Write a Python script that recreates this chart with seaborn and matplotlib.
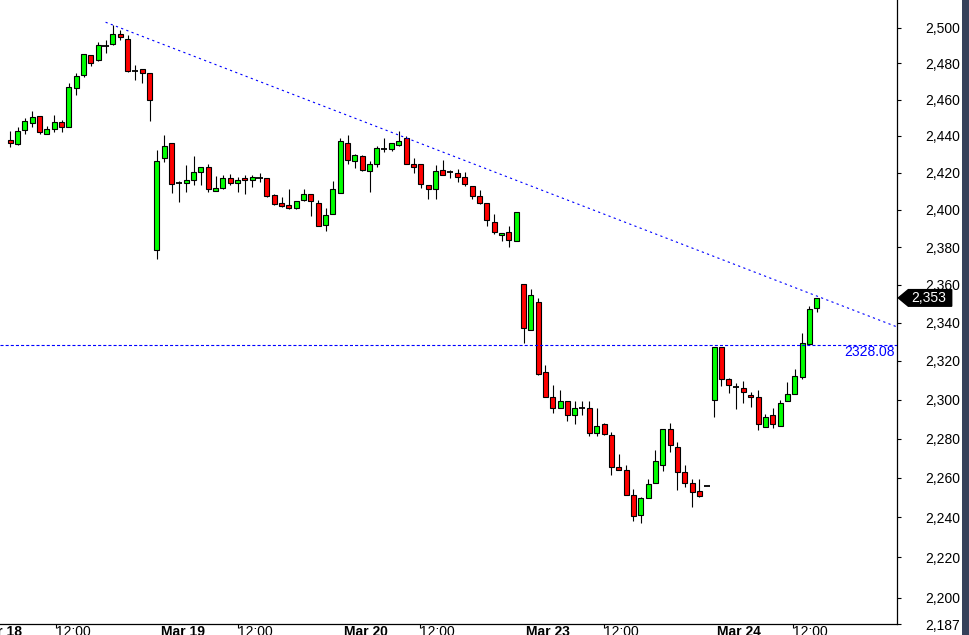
import numpy as np
import pandas as pd
import matplotlib
matplotlib.use("Agg")
import matplotlib.pyplot as plt
import seaborn as sns
from matplotlib.patches import Polygon, Rectangle
from matplotlib.transforms import IdentityTransform
from matplotlib.ticker import FixedLocator, FuncFormatter, NullLocator

# ---------------- data (hourly candles) ----------------
opens = [2437.6, 2435.7, 2443.0, 2446.9, 2450.7, 2440.8, 2443.6, 2447.4, 2444.7, 2466.1,
         2473.3, 2484.4, 2481.7, 2489.8, 2490.6, 2496.2, 2493.4, 2475.9, 2476.7, 2474.6,
         2378.2, 2428.2, 2435.9, 2414.4, 2414.5, 2416.2, 2420.6, 2423.3, 2410.0, 2411.5,
         2417.2, 2414.5, 2417.2, 2416.2, 2416.9, 2417.2, 2408.1, 2403.4, 2402.6, 2401.0,
         2405.3, 2408.7, 2403.4, 2391.6, 2397.5, 2409.1, 2435.9, 2426.6, 2428.8, 2421.1,
         2424.9, 2432.8, 2432.6, 2435.3, 2438.7, 2424.9, 2424.9, 2413.4, 2411.2, 2421.7,
         2420.4, 2419.6, 2417.8, 2412.9, 2407.6, 2403.8, 2393.2, 2386.2, 2387.8, 2383.0,
         2360.1, 2336.4, 2351.1, 2314.3, 2301.1, 2295.4, 2299.5, 2291.8, 2295.7, 2295.4,
         2283.0, 2287.2, 2282.0, 2265.7, 2264.2, 2251.4, 2241.4, 2250.0, 2257.6, 2266.7,
         2285.1, 2275.8, 2262.7, 2257.4, 2253.1, 2256.1, 2300.0, 2327.0, 2310.4, 2306.4,
         2306.2, 2302.6, 2301.1, 2286.1, 2292.3, 2286.6, 2299.5, 2303.1, 2311.9, 2328.6,
         2347.5]
highs = [2442.7, 2445.0, 2449.6, 2453.6, 2450.7, 2445.2, 2451.3, 2448.7, 2469.4, 2474.4,
         2485.0, 2484.4, 2491.7, 2493.0, 2501.3, 2498.4, 2495.6, 2479.1, 2476.7, 2474.6,
         2432.2, 2440.5, 2435.9, 2415.3, 2424.0, 2428.9, 2423.3, 2424.6, 2418.3, 2418.5,
         2419.2, 2417.6, 2419.0, 2419.0, 2420.0, 2417.2, 2408.7, 2406.6, 2411.2, 2404.8,
         2411.2, 2408.7, 2405.1, 2400.8, 2415.3, 2438.7, 2440.5, 2430.4, 2429.5, 2426.6,
         2434.4, 2438.7, 2435.9, 2442.7, 2439.9, 2428.2, 2424.9, 2413.4, 2424.0, 2426.9,
         2421.7, 2422.2, 2420.6, 2412.9, 2410.7, 2403.8, 2397.5, 2387.6, 2391.0, 2398.5,
         2360.6, 2357.6, 2353.2, 2317.7, 2307.4, 2304.8, 2299.5, 2299.5, 2299.0, 2299.0,
         2295.4, 2288.2, 2283.5, 2271.9, 2266.7, 2254.1, 2250.5, 2259.6, 2274.3, 2285.1,
         2288.2, 2278.4, 2266.7, 2259.4, 2259.4, 2256.1, 2327.0, 2327.0, 2311.2, 2308.3,
         2309.5, 2303.7, 2304.8, 2292.8, 2295.4, 2299.7, 2309.3, 2316.0, 2334.6, 2348.7,
         2353.0]
lows = [2434.1, 2435.1, 2441.2, 2444.7, 2440.8, 2440.8, 2442.3, 2441.9, 2444.7, 2462.6,
        2472.6, 2478.7, 2481.1, 2485.9, 2490.0, 2492.8, 2475.3, 2470.9, 2469.2, 2448.3,
        2373.4, 2425.8, 2409.0, 2404.2, 2409.8, 2413.4, 2413.2, 2409.8, 2410.0, 2411.2,
        2413.4, 2409.3, 2408.5, 2412.1, 2414.7, 2406.9, 2402.6, 2401.5, 2400.5, 2400.5,
        2404.8, 2396.7, 2391.0, 2388.4, 2397.5, 2409.1, 2424.9, 2422.4, 2420.8, 2409.3,
        2423.3, 2431.1, 2431.9, 2434.6, 2424.9, 2420.0, 2411.6, 2405.5, 2405.5, 2418.5,
        2417.2, 2415.2, 2412.9, 2406.0, 2403.3, 2391.4, 2387.1, 2383.3, 2380.1, 2383.0,
        2329.4, 2336.4, 2312.8, 2301.1, 2293.1, 2295.4, 2289.0, 2287.5, 2292.3, 2281.5,
        2281.5, 2282.0, 2261.5, 2264.2, 2251.4, 2238.4, 2237.0, 2250.0, 2257.6, 2263.5,
        2273.1, 2253.9, 2255.4, 2245.2, 2250.3, 2256.1, 2290.9, 2307.1, 2303.5, 2294.9,
        2298.0, 2296.2, 2284.6, 2286.1, 2285.6, 2286.6, 2299.5, 2303.1, 2310.4, 2328.6,
        2345.7]
closes = [2435.9, 2442.5, 2448.0, 2450.2, 2441.9, 2443.6, 2447.4, 2444.7, 2466.7, 2472.8,
          2485.0, 2480.0, 2490.0, 2489.8, 2496.2, 2494.5, 2475.9, 2475.9, 2474.4, 2460.0,
          2426.6, 2434.3, 2414.0, 2414.4, 2416.2, 2420.6, 2423.3, 2411.2, 2411.7, 2417.2,
          2414.5, 2416.2, 2416.2, 2417.8, 2416.9, 2407.4, 2403.2, 2402.1, 2401.0, 2404.8,
          2408.7, 2404.5, 2391.0, 2397.3, 2411.2, 2437.0, 2427.1, 2429.5, 2421.3, 2424.9,
          2433.2, 2432.8, 2435.9, 2437.0, 2424.9, 2423.3, 2414.0, 2411.2, 2421.1, 2419.0,
          2420.4, 2417.8, 2414.0, 2407.6, 2403.8, 2394.4, 2387.8, 2387.6, 2383.5, 2398.5,
          2337.0, 2354.8, 2313.3, 2301.1, 2295.4, 2299.5, 2292.3, 2295.7, 2295.7, 2283.0,
          2286.6, 2282.5, 2265.5, 2264.2, 2251.4, 2240.9, 2250.0, 2257.1, 2268.7, 2285.1,
          2276.8, 2262.7, 2257.4, 2252.9, 2250.8, 2256.1, 2327.0, 2310.4, 2307.3, 2306.4,
          2303.7, 2301.1, 2287.2, 2290.8, 2287.2, 2298.0, 2303.1, 2312.4, 2329.1, 2346.9,
          2353.0]

y_ticks = [2187, 2200, 2220, 2240, 2260, 2280, 2300, 2320, 2340, 2360,
           2380, 2400, 2420, 2440, 2460, 2480, 2500]
time_tick_pos = [6.2, 31.0, 55.9, 81.0, 106.8]
time_tick_labels = ["12:00", "12:00", "12:00", "12:00", "12:00"]
date_tick_pos = [-1.4, 23.5, 48.5, 73.4, 99.4]
date_tick_labels = ["Mar 18", "Mar 19", "Mar 20", "Mar 23", "Mar 24"]
level_value = 2328.08
trend_idx = [13, 110]
trend_val = [2503.0, 2354.0]

# ---------------- style ----------------
sns.set_theme(style="white")
plt.rcParams["font.family"] = ["Liberation Sans", "DejaVu Sans"]
plt.rcParams["lines.scale_dashes"] = False

fig = plt.figure(figsize=(9.69, 6.35), dpi=100)
fig.patch.set_facecolor("white")
ax = fig.add_axes([0, 10.7 / 635, 896.7 / 969, 624.3 / 635])
ax.set_facecolor("white")

df = pd.DataFrame({"o": opens, "h": highs, "l": lows, "c": closes})
df["i"] = np.arange(len(df))
XMIN, XMAX = -0.45, 120.9
YMIN, YMAX = 2187, 2515.5

ax.set_yscale("log")
ax.set_xlim(XMIN, XMAX)
ax.set_ylim(YMIN, YMAX)

# wicks
ax.vlines(df["i"], df["l"], df["h"], color="black", lw=0.8, zorder=1)
up = df["c"] > df["o"]
dn = df["c"] < df["o"]
flat = df["c"] == df["o"]
bw = 0.68
ax.bar(df["i"][up], (df["c"] - df["o"])[up], bottom=df["o"][up], width=bw,
       color="#00ff00", edgecolor="black", linewidth=0.8, zorder=2)
ax.bar(df["i"][dn], (df["o"] - df["c"])[dn], bottom=df["c"][dn], width=bw,
       color="#ff0000", edgecolor="black", linewidth=0.8, zorder=2)
ax.hlines(df["c"][flat], df["i"][flat] - 0.45, df["i"][flat] + 0.45,
          color="black", lw=1.3, zorder=3)

# trend line (straight on log scale), extended to the right edge
slope = (np.log(trend_val[1]) - np.log(trend_val[0])) / (trend_idx[1] - trend_idx[0])
tx = np.array([trend_idx[0], XMAX])
ty = trend_val[0] * np.exp(slope * (tx - trend_idx[0]))
sns.lineplot(x=tx, y=ty, ax=ax, color="#0000ff", linewidth=0.8,
             linestyle=(0, (1.6, 2.4)), zorder=4)

# horizontal level
ax.axhline(level_value, color="#0000ff", lw=0.8, linestyle=(0, (2.2, 1.5)), zorder=4)
ax.annotate(f"{level_value:.2f}", xy=(1, level_value), xycoords=ax.get_yaxis_transform(),
            xytext=(-1.5, 0.5), textcoords="offset points", ha="right", va="top",
            color="#0000ff", fontsize=10)

# spines
for s in ["top", "left"]:
    ax.spines[s].set_visible(False)
for s in ["right", "bottom"]:
    ax.spines[s].set_visible(True)
    ax.spines[s].set_color("black")
    ax.spines[s].set_linewidth(0.9)

# y axis on the right
ax.yaxis.set_major_locator(FixedLocator(y_ticks))
ax.yaxis.set_minor_locator(NullLocator())
ax.yaxis.set_major_formatter(FuncFormatter(lambda v, p: f"{v:,.0f}"))
ax.tick_params(axis="y", which="major", left=False, labelleft=False, right=True,
               labelright=True, direction="out", length=3.2, width=0.8,
               color="black", labelcolor="black", labelsize=10, pad=17.5)

# x axis
ax.set_xticks(time_tick_pos)
ax.set_xticklabels(time_tick_labels, ha="left")
ax.set_xticks(date_tick_pos, minor=True)
ax.set_xticklabels(date_tick_labels, minor=True, fontweight="bold")
ax.tick_params(axis="x", which="major", bottom=True, direction="out", length=3.2,
               width=0.8, color="black", labelcolor="black", labelsize=10, pad=-3.0)
ax.tick_params(axis="x", which="minor", bottom=True, length=0, labelcolor="black",
               labelsize=10, pad=0.2)
ax.grid(False)

# price tag for last close
last = closes[-1]
yd = ax.transData.transform((0, last))[1]
xr = ax.transAxes.transform((1, 0))[0]
hh = 8.3
tag = Polygon([(xr + 1.6, yd), (xr + 11.6, yd + hh), (xr + 55.0, yd + hh),
               (xr + 55.0, yd - hh), (xr + 11.6, yd - hh)], closed=True,
              transform=IdentityTransform(), facecolor="black", edgecolor="black", zorder=5)
fig.add_artist(tag)
fig.text(xr + 32.0, yd, f"{last:,.0f}", transform=IdentityTransform(), ha="center",
         va="center", color="white", fontsize=10, zorder=6)

# right border stripe
fig.add_artist(Rectangle((962 / 969, 0), 7 / 969, 1, transform=fig.transFigure,
                         facecolor="#36415a", edgecolor="none", zorder=5))

fig.savefig("out.png", dpi=100, facecolor="white")
